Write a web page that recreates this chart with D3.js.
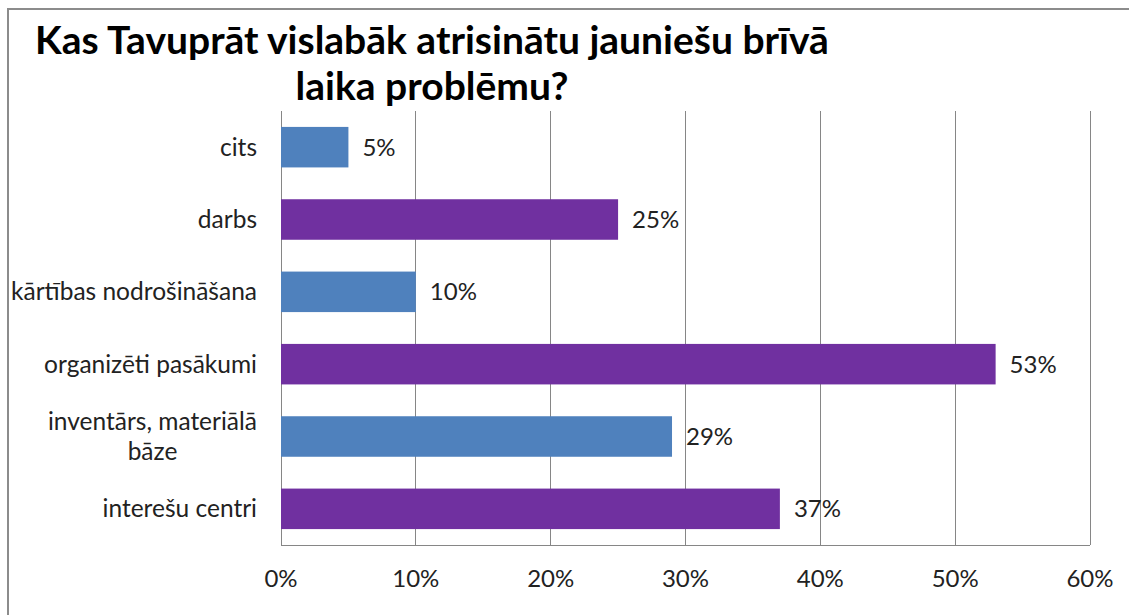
<!DOCTYPE html>
<html>
<head>
<meta charset="utf-8">
<script src="https://cdn.jsdelivr.net/npm/d3@7"></script>
<style>
  body { margin: 0; background: #fff; }
  text { font-family: Lato, "Open Sans", sans-serif; }
</style>
</head>
<body>
<div id="chart"></div>
<script>
const title = ["Kas Tavuprāt vislabāk atrisinātu jauniešu brīvā", "laika problēmu?"];
const categories = ["cits", "darbs", "kārtības nodrošināšana", "organizēti pasākumi", "inventārs, materiālā bāze", "interešu centri"];
const values = [0.05, 0.25, 0.10, 0.53, 0.29, 0.37];
const ticks = [0, 0.1, 0.2, 0.3, 0.4, 0.5, 0.6];
const barColors = ["#4F81BD", "#7030A0"];

var margin = {top: 111, left: 281, right: 39, bottom: 70},
    width = 1129 - margin.left - margin.right,
    height = 615 - margin.top - margin.bottom;

var svg = d3.select("#chart").append("svg")
    .attr("width", 1129)
    .attr("height", 615);

// outer chart border
svg.append("rect")
  .attr("x", 8).attr("y", 9)
  .attr("width", 1300).attr("height", 800)
  .attr("fill", "none")
  .attr("stroke", "#8c8c8c")
  .attr("stroke-width", 2);

svg.selectAll(".title")
  .data(title)
  .enter().append("text")
  .attr("class", "title")
  .attr("x", 432)
  .attr("y", function(d, i) { return 54 + i * 46; })
  .attr("text-anchor", "middle")
  .attr("font-size", "39px")
  .attr("font-weight", "bold")
  .attr("fill", "#000")
  .text(function(d) { return d; });

var g = svg.append("g")
  .attr("transform", "translate(" + margin.left + "," + margin.top + ")");

var x = d3.scaleLinear().domain([0, 0.6]).range([0, width]);
var y = d3.scaleBand().domain(categories).range([0, height])
  .paddingInner(0.44).paddingOuter(0.22);

// gridlines
g.selectAll(".grid")
  .data(ticks)
  .enter().append("line")
  .attr("x1", function(d) { return x(d); })
  .attr("x2", function(d) { return x(d); })
  .attr("y1", 0)
  .attr("y2", height)
  .attr("stroke", "#868686")
  .attr("stroke-width", 1)
  .attr("shape-rendering", "crispEdges");

g.append("line")
  .attr("x1", 0).attr("x2", width)
  .attr("y1", height).attr("y2", height)
  .attr("stroke", "#868686")
  .attr("shape-rendering", "crispEdges");

g.selectAll(".bar")
  .data(values)
  .enter().append("rect")
  .attr("x", 0)
  .attr("y", function(d, i) { return y(categories[i]); })
  .attr("width", function(d) { return x(d); })
  .attr("height", y.bandwidth())
  .attr("fill", function(d, i) { return barColors[i % 2]; });

g.selectAll(".val")
  .data(values)
  .enter().append("text")
  .attr("x", function(d) { return x(d) + 14; })
  .attr("y", function(d, i) { return y(categories[i]) + y.bandwidth() / 2; })
  .attr("dy", "0.35em")
  .attr("font-size", "24px")
  .attr("fill", "#222")
  .text(function(d) { return Math.round(d * 100) + "%"; });

// category labels, wrap long one
var wrapped = {"inventārs, materiālā bāze": ["inventārs, materiālā", "bāze"]};
categories.forEach(function(c) {
  var lines = wrapped[c] || [c];
  var cy = y(c) + y.bandwidth() / 2;
  var first = g.append("text")
    .attr("text-anchor", "end")
    .attr("font-size", "24.5px")
    .attr("fill", "#222")
    .attr("x", -24)
    .attr("y", cy - (lines.length - 1) * 15)
    .attr("dy", "0.35em")
    .text(lines[0]);
  if (lines.length > 1) {
    var w = first.node().getComputedTextLength();
    g.append("text")
      .attr("text-anchor", "middle")
      .attr("font-size", "24.5px")
      .attr("fill", "#222")
      .attr("x", -24 - w / 2)
      .attr("y", cy + 15)
      .attr("dy", "0.35em")
      .text(lines[1]);
  }
});

g.selectAll(".tick")
  .data(ticks)
  .enter().append("text")
  .attr("x", function(d) { return x(d); })
  .attr("y", height + 34)
  .attr("dy", "0.35em")
  .attr("text-anchor", "middle")
  .attr("font-size", "24px")
  .attr("fill", "#222")
  .text(function(d) { return Math.round(d * 100) + "%"; });
</script>
</body>
</html>
